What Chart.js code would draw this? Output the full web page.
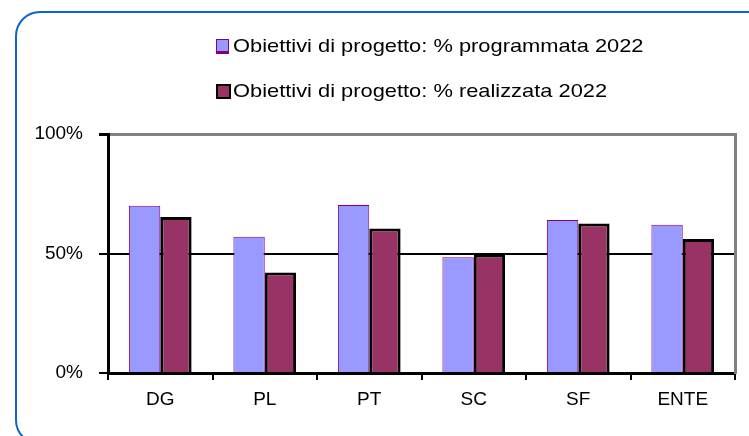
<!DOCTYPE html>
<html>
<head>
<meta charset="utf-8">
<script src="https://cdn.jsdelivr.net/npm/chart.js@4/dist/chart.umd.min.js"></script>
<style>
  html, body { margin: 0; padding: 0; background: #fff; }
  #wrap { position: relative; width: 749px; height: 436px; overflow: hidden; }
  #frame { position: absolute; left: 15px; top: 11px; width: 756px; height: 430px; border: 2px solid #0a67c8; border-radius: 25px; pointer-events: none; }
  #leg { position: absolute; left: 216px; top: 33px; font: 19px "Liberation Sans", Arial, sans-serif; color: #000; }
  #leg div { position: relative; height: 45px; line-height: 26px; white-space: nowrap; }
  #leg span { display: inline-block; margin-left: 17px; transform: scaleX(1.15); transform-origin: 0 50%; }
  #leg i { position: absolute; left: 0; top: 6px; width: 11px; height: 11px; box-sizing: content-box; }
  canvas { position: absolute; left: 0; top: 0; }
</style>
</head>
<body>
<div id="wrap">
  <canvas id="c" width="749" height="436"></canvas>
  <div id="leg"></div>
  <div id="frame"></div>
</div>
<script>
// ── Data ──
const categories = ['DG', 'PL', 'PT', 'SC', 'SF', 'ENTE'];
const programmata = [70, 57, 70.3, 48.4, 64, 62];
const realizzata = [65.3, 42.1, 60.5, 49.6, 62.6, 56.1];
const seriesNames = ['Obiettivi di progetto: % programmata 2022', 'Obiettivi di progetto: % realizzata 2022'];
const yTicks = [0, 50, 100];

const FONT = '"Liberation Sans", Arial, sans-serif';

const sets = [
  { label: seriesNames[0], data: programmata, backgroundColor: '#9999ff', borderColor: '#800080', borderWidth: 1 },
  { label: seriesNames[1], data: realizzata, backgroundColor: '#993366', borderColor: '#000000', borderWidth: 3 }
];

// legend (html, stacked like the original)
document.getElementById('leg').innerHTML = sets.map((s, i) => {
  const bd = i === 0 ? 'border:1px solid #800080;border-bottom-width:3px' : 'border:2px solid #000';
  return `<div><i style="background:${s.backgroundColor};${bd}"></i><span>${s.label}</span></div>`;
}).join('');

new Chart(document.getElementById('c').getContext('2d'), {
  type: 'bar',
  data: {
    labels: categories,
    datasets: sets.map(s => ({ ...s, categoryPercentage: 0.6, barPercentage: 1.0 }))
  },
  options: {
    responsive: false, animation: false, devicePixelRatio: 1,
    layout: { padding: { top: 134, right: 14, left: 0, bottom: 0 } },
    plugins: { legend: { display: false }, tooltip: { enabled: false } },
    scales: {
      x: {
        grid: { drawOnChartArea: false, tickLength: 7, tickColor: '#000', lineWidth: 2, offset: true },
        border: { color: '#000', width: 3 },
        ticks: { color: '#000', font: { family: FONT, size: 19 }, padding: 8 },
        afterFit: s => { s.height = 63; }
      },
      y: {
        min: 0, max: 100,
        afterBuildTicks: s => { s.ticks = yTicks.map(v => ({ value: v })); },
        grid: {
          color: c => c.tick && c.tick.value === 50 ? '#000' : (c.tick && c.tick.value === 100 ? '#808080' : 'rgba(0,0,0,0)'),
          lineWidth: c => c.tick && c.tick.value === 100 ? 3 : 2,
          tickColor: '#000', tickLength: 9
        },
        border: { color: '#000', width: 3 },
        ticks: { color: '#000', font: { family: FONT, size: 19 }, padding: 16, callback: v => v + '%' },
        afterFit: s => { s.width = 108; }
      },
      y2: {
        position: 'right', min: 0, max: 100,
        grid: { display: false },
        border: { color: '#808080', width: 3 },
        ticks: { display: false },
        afterFit: s => { s.width = 0; }
      }
    }
  }
});
</script>
</body>
</html>
